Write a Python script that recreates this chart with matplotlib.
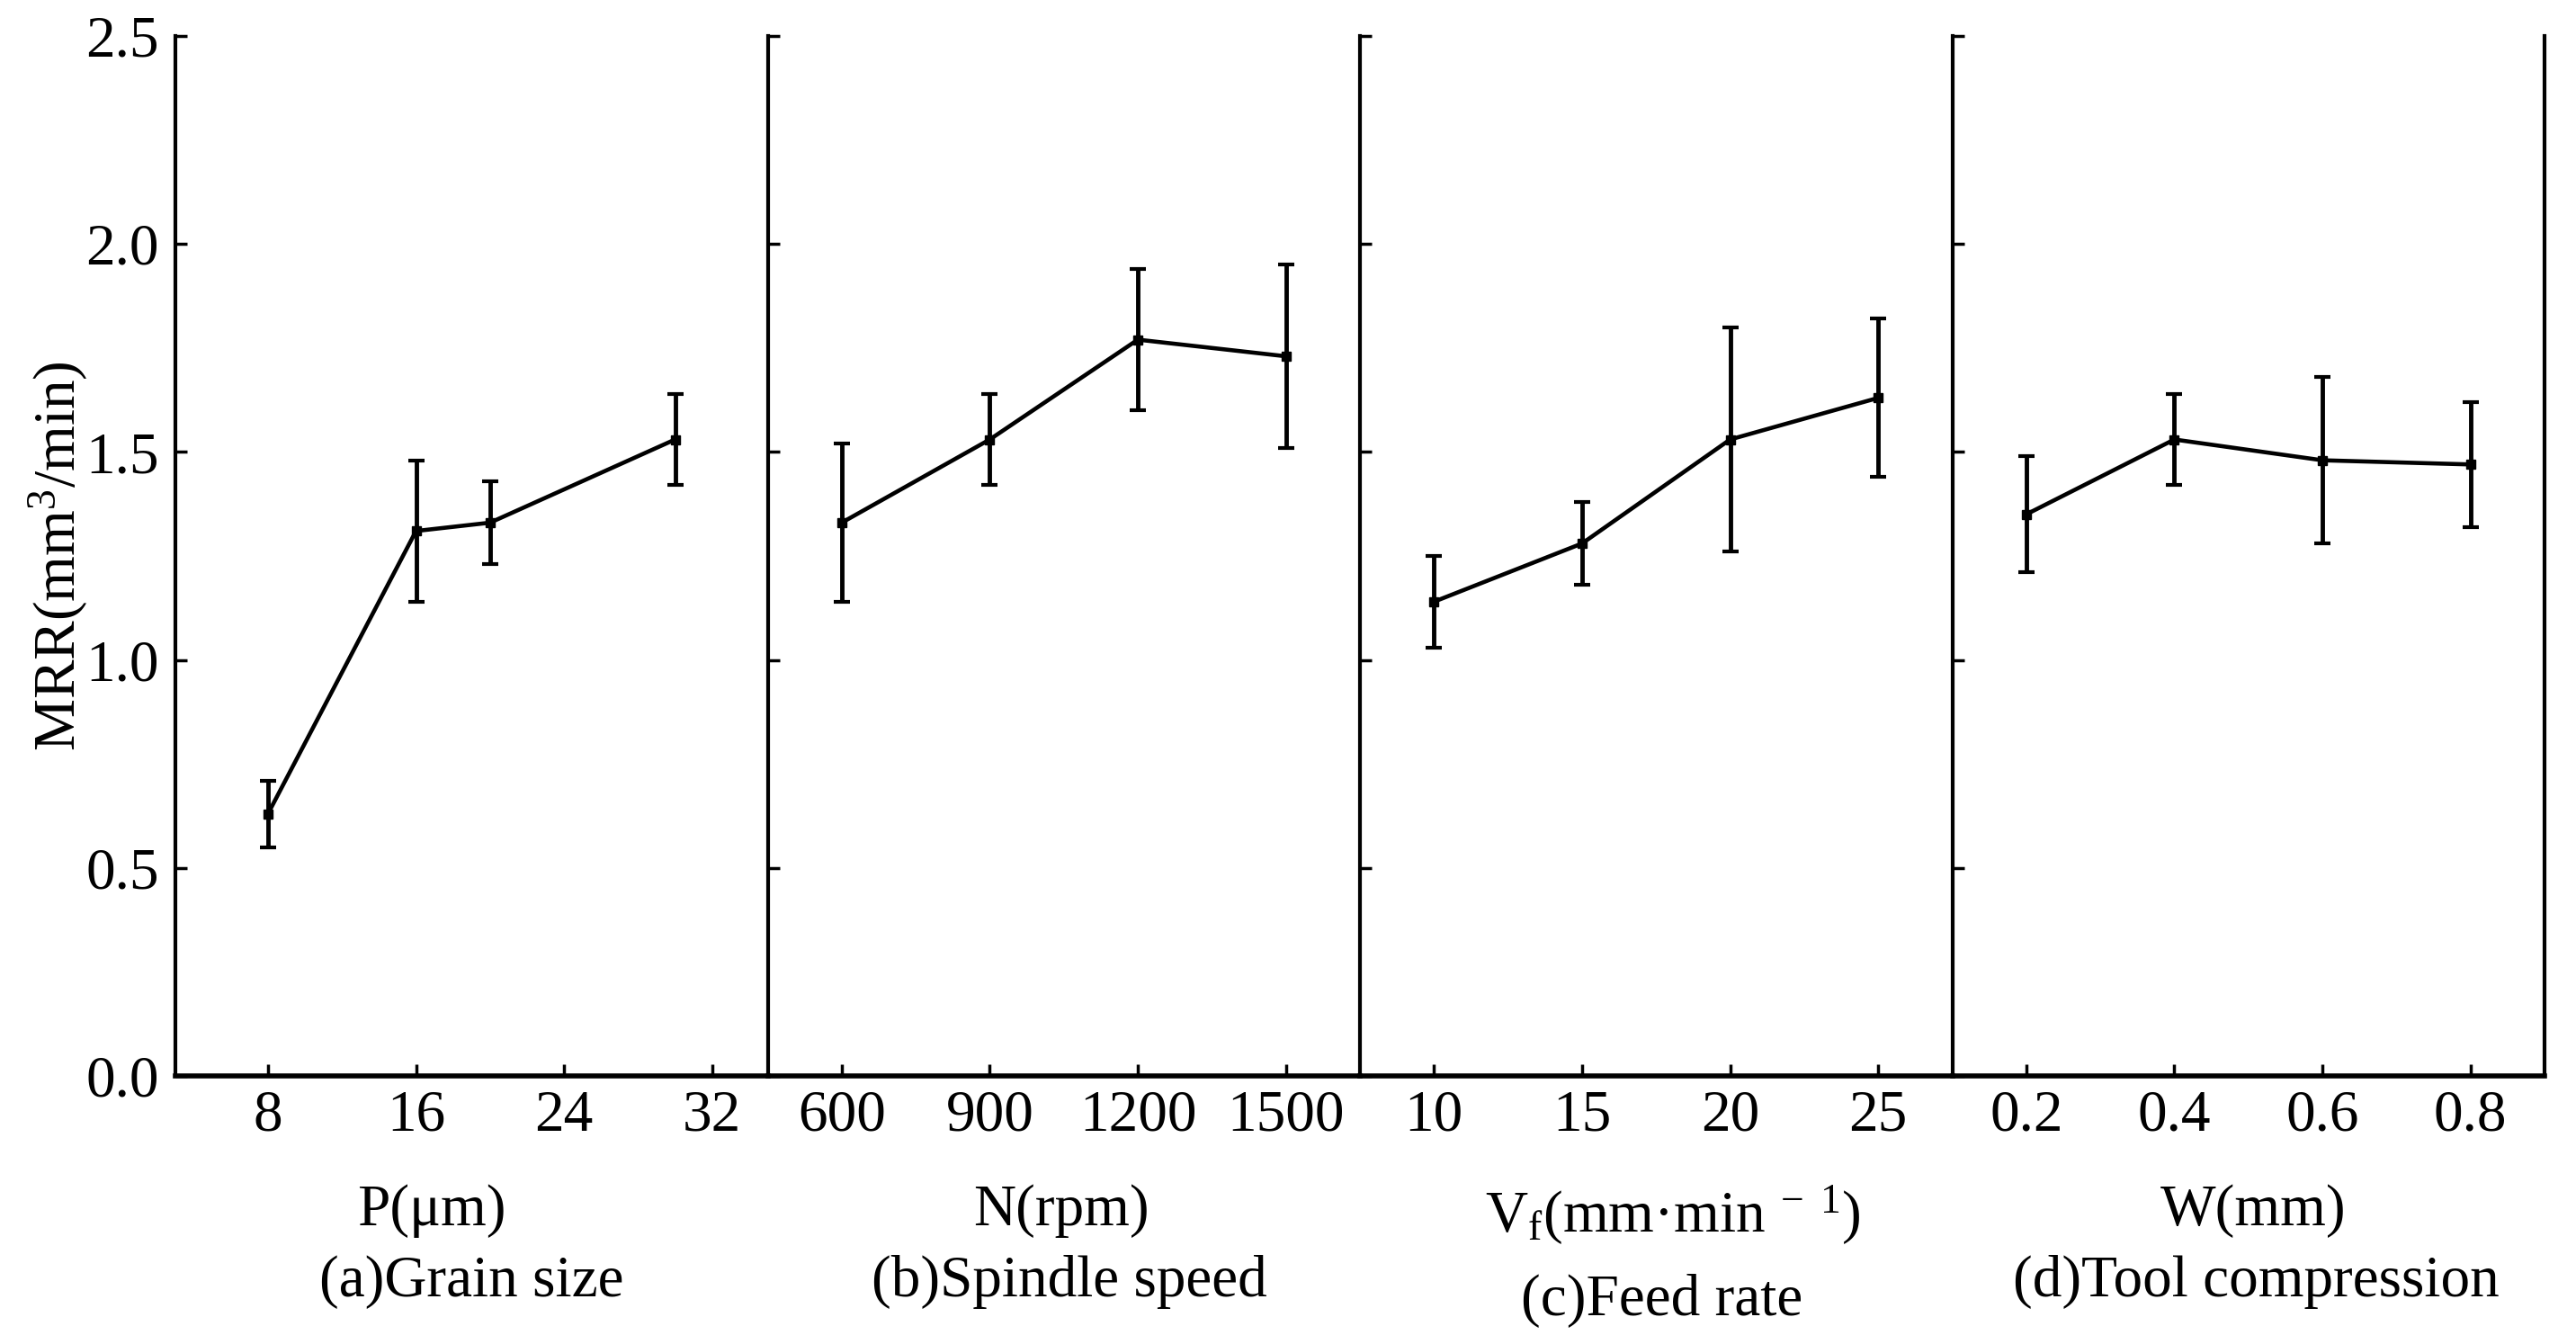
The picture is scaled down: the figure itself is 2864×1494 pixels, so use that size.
import matplotlib
matplotlib.use("Agg")
import matplotlib.pyplot as plt
import numpy as np

plt.rcParams['font.family'] = ['Liberation Serif', 'DejaVu Serif']
plt.rcParams['mathtext.fontset'] = 'custom'
plt.rcParams['mathtext.rm'] = 'Liberation Serif'
plt.rcParams['mathtext.it'] = 'Liberation Serif:italic'
plt.rcParams['mathtext.bf'] = 'Liberation Serif:bold'

# ---- data ----
p_x = [8, 16, 20, 30]
p_y = [0.63, 1.31, 1.33, 1.53]
p_lo = [0.55, 1.14, 1.23, 1.42]
p_hi = [0.71, 1.48, 1.43, 1.64]
p_ticks = [8, 16, 24, 32]

n_x = [600, 900, 1200, 1500]
n_y = [1.33, 1.53, 1.77, 1.73]
n_lo = [1.14, 1.42, 1.60, 1.51]
n_hi = [1.52, 1.64, 1.94, 1.95]
n_ticks = [600, 900, 1200, 1500]

v_x = [10, 15, 20, 25]
v_y = [1.14, 1.28, 1.53, 1.63]
v_lo = [1.03, 1.18, 1.26, 1.44]
v_hi = [1.25, 1.38, 1.80, 1.82]
v_ticks = [10, 15, 20, 25]

w_x = [0.2, 0.4, 0.6, 0.8]
w_y = [1.35, 1.53, 1.48, 1.47]
w_lo = [1.21, 1.42, 1.28, 1.32]
w_hi = [1.49, 1.64, 1.68, 1.62]
w_ticks = [0.2, 0.4, 0.6, 0.8]
w_ticklabels = ['0.2', '0.4', '0.6', '0.8']

y_ticks = [0.0, 0.5, 1.0, 1.5, 2.0, 2.5]
y_ticklabels = ['0.0', '0.5', '1.0', '1.5', '2.0', '2.5']

unit_labels = [r'P(μm)', r'N(rpm)', r'V$_{\mathrm{f}}$(mm·min$^{\mathrm{\ -\ 1}}$)', r'W(mm)']
panel_titles = ['(a)Grain size', '(b)Spindle speed', '(c)Feed rate', '(d)Tool compression']
ylabel = r'MRR(mm$^{\mathrm{3}}$/min)'

panels = [
    (p_x, p_y, p_lo, p_hi, p_ticks, [str(t) for t in p_ticks], (3, 35)),
    (n_x, n_y, n_lo, n_hi, n_ticks, [str(t) for t in n_ticks], (450, 1650)),
    (v_x, v_y, v_lo, v_hi, v_ticks, [str(t) for t in v_ticks], (7.5, 27.5)),
    (w_x, w_y, w_lo, w_hi, w_ticks, w_ticklabels, (0.1, 0.9)),
]

W, H = 2864, 1494
fig = plt.figure(figsize=(W / 100, H / 100), dpi=100)

left_px, right_px = 195, 2829
top_px, bot_px = 40, 1196
pw = (right_px - left_px) / 4.0
FS = 47

label_x_px = [480, 1180, 1860, 2505]
label_base1 = [1362, 1362, 1369, 1362]
title_x_px = [524, 1189, 1848, 2508]
title_base = [1441, 1441, 1462, 1441]

for i, (xs, ys, lo, hi, ticks, tlabels, xlim) in enumerate(panels):
    ax = fig.add_axes([(left_px + i * pw) / W, 1 - bot_px / H, pw / W, (bot_px - top_px) / H])
    ys_a = np.array(ys)
    yerr = [ys_a - np.array(lo), np.array(hi) - ys_a]
    ax.errorbar(xs, ys, yerr=yerr, color='black', lw=3.3, elinewidth=3.5,
                capsize=6.2, capthick=3.0, marker='s', markersize=7, zorder=3)
    ax.set_xlim(*xlim)
    ax.set_ylim(0, 2.5)
    ax.set_xticks(ticks)
    ax.set_xticklabels(tlabels, fontsize=FS)
    ax.set_yticks(y_ticks)
    if i == 0:
        ax.set_yticklabels(y_ticklabels, fontsize=FS)
    else:
        ax.set_yticklabels([])
    ax.tick_params(axis='both', direction='in', length=9.5, width=2.5, color='black')
    ax.tick_params(axis='x', pad=11)
    ax.tick_params(axis='y', pad=13)
    ax.spines['top'].set_visible(False)
    ax.spines['right'].set_visible(i == 3)
    for s in ['left', 'right']:
        ax.spines[s].set_linewidth(3.0)
    ax.spines['bottom'].set_linewidth(4.0)
    ax.patch.set_visible(False)

    fig.text(label_x_px[i] / W, 1 - label_base1[i] / H, unit_labels[i], fontsize=FS,
             ha='center', va='baseline')
    fig.text(title_x_px[i] / W, 1 - title_base[i] / H, panel_titles[i], fontsize=FS,
             ha='center', va='baseline')

fig.text(65 / W, 1 - 618 / H, ylabel, fontsize=FS, rotation=90, ha='center', va='center')

fig.savefig('out.png', dpi=100, facecolor='white')
